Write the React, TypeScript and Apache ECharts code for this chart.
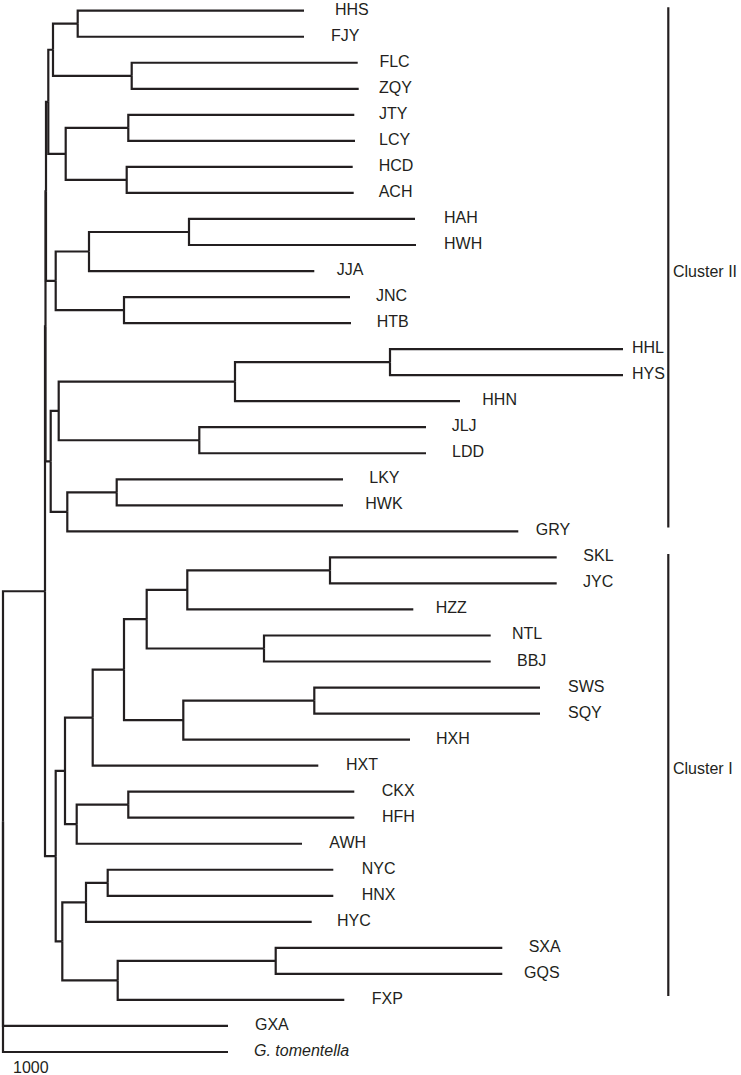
import React, { useEffect, useRef } from "react";
import * as echarts from "echarts";

// Leaves, top to bottom
const LEAVES = [
  "HHS", "FJY", "FLC", "ZQY", "JTY", "LCY", "HCD", "ACH", "HAH", "HWH",
  "JJA", "JNC", "HTB", "HHL", "HYS", "HHN", "JLJ", "LDD", "LKY", "HWK",
  "GRY", "SKL", "JYC", "HZZ", "NTL", "BBJ", "SWS", "SQY", "HXH", "HXT",
  "CKX", "HFH", "AWH", "NYC", "HNX", "HYC", "SXA", "GQS", "FXP", "GXA",
  "G. tomentella",
];

// Distance of each leaf tip from the root (branch-length units)
const LEAF_DEPTH = [
  301, 301, 354.7, 355.7, 351.3, 352, 349.7, 350.7, 412, 413,
  311.3, 347, 348, 620, 620, 457, 423, 423, 340, 340,
  515.3, 553.7, 553.7, 410.3, 487.7, 487.7, 537, 537, 407, 315.3,
  351.3, 351.3, 299, 330.3, 330.3, 308.7, 499.3, 499.3, 341.3, 225,
  225,
];

// Internal nodes: [id, children, distance from root]  (children listed before parents)
const CLADES: [string, string[], number][] = [
  ["n1", ["HHS", "FJY"], 74.7],
  ["n2", ["FLC", "ZQY"], 128.7],
  ["a1", ["n1", "n2"], 50],
  ["n3", ["JTY", "LCY"], 125.3],
  ["n4", ["HCD", "ACH"], 123.7],
  ["a2", ["n3", "n4"], 62.7],
  ["clade1", ["a1", "a2"], 45.3],
  ["n5", ["HAH", "HWH"], 186],
  ["b1", ["n5", "JJA"], 86],
  ["n6", ["JNC", "HTB"], 121],
  ["clade2", ["b1", "n6"], 52.7],
  ["A", ["clade1", "clade2"], 43],
  ["n7", ["HHL", "HYS"], 387],
  ["c1", ["n7", "HHN"], 232],
  ["n8", ["JLJ", "LDD"], 196.3],
  ["c2", ["c1", "n8"], 55.7],
  ["n9", ["LKY", "HWK"], 113.7],
  ["c3", ["n9", "GRY"], 64.3],
  ["clade3", ["c2", "c3"], 47.7],
  ["B", ["A", "clade3"], 42.5],
  ["n10", ["SKL", "JYC"], 327],
  ["d1", ["n10", "HZZ"], 184.3],
  ["n11", ["NTL", "BBJ"], 261],
  ["d2", ["d1", "n11"], 143.7],
  ["n12", ["SWS", "SQY"], 311.3],
  ["d3", ["n12", "HXH"], 180.3],
  ["d4", ["d2", "d3"], 121],
  ["d5", ["d4", "HXT"], 89.7],
  ["n13", ["CKX", "HFH"], 125.3],
  ["d6", ["n13", "AWH"], 73.7],
  ["d7", ["d5", "d6"], 62],
  ["n14", ["NYC", "HNX"], 104.7],
  ["e1", ["n14", "HYC"], 83],
  ["n15", ["SXA", "GQS"], 272.7],
  ["e2", ["n15", "FXP"], 114.7],
  ["e3", ["e1", "e2"], 59.3],
  ["clusterI", ["d7", "e3"], 52.7],
  ["C", ["B", "clusterI"], 42],
  ["root", ["C", "GXA", "G. tomentella"], 0],
];

// Clusters: [label, first leaf, last leaf]
const CLUSTERS: [string, string, string][] = [
  ["Cluster II", "HHS", "GRY"],
  ["Cluster I", "SKL", "FXP"],
];

const ROOT_LABEL = "1000";

// ---- layout (not data) ----
const LABEL_GAP = [
  31, 27, 21.7, 20.3, 24.7, 24, 26, 25, 29, 28,
  22.4, 26, 25.7, 9, 9, 22.3, 25.7, 26, 26.3, 22.3,
  17.4, 26.6, 26.3, 22.4, 21.3, 26.3, 28, 28, 26, 27.7,
  27.4, 27.7, 27.3, 28.4, 28.4, 25.3, 26.4, 21.7, 27.4, 27,
  26,
];
const CLUSTER_LINE_X = 665.3;
const CLUSTER_TEXT_X = 670;
const CLUSTER_LABEL_Y = [10.0, 29.1];
const INK = "#231f20";
const FONT = '"Liberation Sans", Arial, Helvetica, sans-serif';

export default function App() {
  const ref = useRef<HTMLDivElement>(null);

  useEffect(() => {
    const chart = echarts.init(ref.current!, null, { renderer: "svg" });

    const yOf: Record<string, number> = {};
    const xOf: Record<string, number> = {};
    LEAVES.forEach((n, i) => {
      yOf[n] = i;
      xOf[n] = LEAF_DEPTH[i];
    });
    CLADES.forEach(([id, kids, d]) => {
      xOf[id] = d;
      yOf[id] = (yOf[kids[0]] + yOf[kids[kids.length - 1]]) / 2;
    });

    const edges: number[][] = [];
    CLADES.forEach(([id, kids]) => {
      kids.forEach((k) => edges.push([xOf[id], yOf[id], xOf[k], yOf[k]]));
    });

    const leafData = LEAVES.map((n, i) => [LEAF_DEPTH[i], i]);

    const clusterData = CLUSTERS.map(([, a, b], i) => [
      CLUSTER_LINE_X,
      yOf[a] - 0.13,
      yOf[b] - 0.15,
      CLUSTER_LABEL_Y[i],
    ]);

    chart.setOption({
      animation: false,
      backgroundColor: "#ffffff",
      grid: { left: 3, right: 0, top: 10.7, bottom: 23 },
      xAxis: { type: "value", min: 0, max: 738, show: false },
      yAxis: { type: "value", min: 0, max: 40, inverse: true, show: false },
      series: [
        {
          type: "custom",
          coordinateSystem: "cartesian2d",
          encode: { x: [0, 2], y: [1, 3] },
          data: edges,
          silent: true,
          renderItem: (params: any, api: any) => {
            const p = api.coord([api.value(0), api.value(1)]);
            const pv = api.coord([api.value(0), api.value(3)]);
            const c = api.coord([api.value(2), api.value(3)]);
            return {
              type: "polyline",
              shape: { points: [p, pv, c] },
              style: {
                stroke: INK,
                lineWidth: 2.2,
                fill: null,
                lineJoin: "miter",
                lineCap: "butt",
              },
            };
          },
        },
        {
          type: "custom",
          coordinateSystem: "cartesian2d",
          encode: { x: 0, y: 1 },
          data: leafData,
          silent: true,
          renderItem: (params: any, api: any) => {
            const i = params.dataIndex;
            const p = api.coord([api.value(0), api.value(1)]);
            const name = LEAVES[i];
            return {
              type: "text",
              x: p[0] + LABEL_GAP[i],
              y: p[1] - 1.5,
              style: {
                text: name,
                fill: INK,
                fontSize: 16,
                fontFamily: FONT,
                fontStyle: name.startsWith("G. ") ? "italic" : "normal",
                align: "left",
                verticalAlign: "middle",
              },
            };
          },
        },
        {
          type: "custom",
          coordinateSystem: "cartesian2d",
          encode: { x: 0, y: [1, 2] },
          data: clusterData,
          silent: true,
          renderItem: (params: any, api: any) => {
            const i = params.dataIndex;
            const a = api.coord([api.value(0), api.value(1)]);
            const b = api.coord([api.value(0), api.value(2)]);
            const t = api.coord([CLUSTER_TEXT_X, api.value(3)]);
            return {
              type: "group",
              children: [
                {
                  type: "line",
                  shape: { x1: a[0], y1: a[1], x2: b[0], y2: b[1] },
                  style: { stroke: INK, lineWidth: 2.2 },
                },
                {
                  type: "text",
                  x: t[0],
                  y: t[1],
                  style: {
                    text: CLUSTERS[i][0],
                    fill: INK,
                    fontSize: 16,
                    fontFamily: FONT,
                    align: "left",
                    verticalAlign: "middle",
                  },
                },
              ],
            };
          },
        },
      ],
      graphic: [
        {
          type: "text",
          left: 13,
          top: 1059,
          style: {
            text: ROOT_LABEL,
            fill: INK,
            fontSize: 16,
            fontFamily: FONT,
          },
        },
      ],
    });

    return () => chart.dispose();
  }, []);

  return (
    <div
      ref={ref}
      style={{ position: "absolute", left: 0, top: 0, width: 741, height: 1075 }}
    />
  );
}
